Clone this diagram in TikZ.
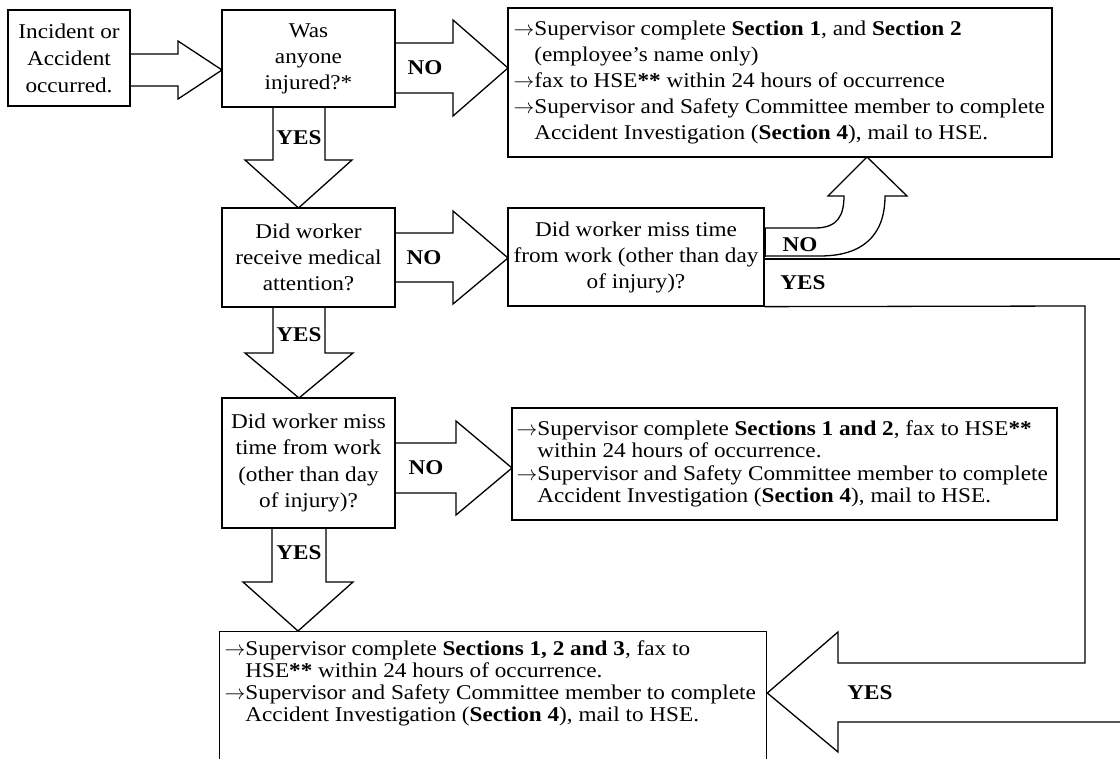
\documentclass[tikz,border=0pt]{standalone}
\usepackage{fontspec}
\setmainfont{Liberation Serif}[FakeStretch=1.105]
\newcommand{\ra}{$\rightarrow$}
\newcommand{\ind}{\hphantom{$\rightarrow$}}
\begin{document}
\begin{tikzpicture}[x=1pt,y=-1pt,line width=1.3pt,
  box/.style={draw,inner sep=0pt,align=center,font=\fontsize{21}{26}\selectfont},
  txt/.style={inner sep=0pt,align=left},
  lbl/.style={inner sep=0pt,font=\fontsize{21}{24}\selectfont\bfseries},
  blk/.style={draw,fill=white,line join=miter}]
\useasboundingbox (0,0) rectangle (1120,759);
\clip (0,0) rectangle (1120,759);
% block arrows
\draw[blk] (130,54) -- (178,54) -- (178,41) -- (222,70) -- (178,99) -- (178,86) -- (130,86);
\draw[blk] (395,43) -- (453,43) -- (453,20) -- (508,68) -- (453,116) -- (453,93) -- (395,93);
\draw[blk] (273,107) -- (273,160) -- (245,160) -- (298.5,208) -- (352,160) -- (325,160) -- (325,107);
\draw[blk] (395,233) -- (453,233) -- (453,211) -- (508,258) -- (453,304) -- (453,282) -- (395,282);
\draw[blk] (273,307) -- (273,353) -- (245,353) -- (299,398) -- (353,353) -- (325,353) -- (325,307);
\draw[blk] (395,443) -- (456,443) -- (456,421) -- (512,468) -- (456,515) -- (456,493) -- (395,493);
\draw[blk] (272,528) -- (272,582) -- (243,582) -- (298,631) -- (353,582) -- (326,582) -- (326,528);
% boxes
\node[box,line width=2.6pt,minimum width=122,minimum height=96,font=\fontsize{21}{27}\selectfont] (b1) at (69,58) {Incident or\\Accident\\occurred.};
\node[box,minimum width=173,minimum height=97] (b2) at (308.5,58.5) {Was\\anyone\\injured?*};
\node[box,minimum width=544,minimum height=149] (b5) at (780,82.5) {};
\node[txt,anchor=west,font=\fontsize{21}{26}\selectfont] (t5) at (513,82.5) {\ra Supervisor complete \textbf{Section 1}, and \textbf{Section 2}\\
\ind (employee’s name only)\\
\ra fax to HSE\textbf{**} within 24 hours of occurrence\\
\ra Supervisor and Safety Committee member to complete\\
\ind Accident Investigation (\textbf{Section 4}), mail to HSE.};
\node[box,minimum width=173,minimum height=99] (b3) at (308.5,257.5) {Did worker\\receive medical\\attention?};
\node[box,minimum width=256,minimum height=98] (b4) at (636,257) {Did worker miss time\\from work (other than day\\of injury)?};
\node[box,minimum width=173,minimum height=130,font=\fontsize{21}{26.5}\selectfont] (bd) at (308.5,463) {Did worker miss\\time from work\\(other than day\\of injury)?};
\node[box,minimum width=545,minimum height=112] (b7) at (784.5,464) {};
\node[txt,anchor=west,font=\fontsize{21}{22.5}\selectfont] (t7) at (516,464) {\ra Supervisor complete \textbf{Sections 1 and 2}, fax to HSE\textbf{**}\\
\ind within 24 hours of occurrence.\\
\ra Supervisor and Safety Committee member to complete\\
\ind Accident Investigation (\textbf{Section 4}), mail to HSE.};
\node[box,anchor=north west,minimum width=547,minimum height=160] (b6) at (219,631) {};
\node[txt,anchor=north west,font=\fontsize{21}{22}\selectfont] (t6) at (224,640) {\ra Supervisor complete \textbf{Sections 1, 2 and 3}, fax to\\
\ind HSE\textbf{**} within 24 hours of occurrence.\\
\ra Supervisor and Safety Committee member to complete\\
\ind Accident Investigation (\textbf{Section 4}), mail to HSE.};
% curved NO arrow from b4 up to b5
\draw[blk] (b4.east |- 0,228) -- (815,228) .. controls (838,228) and (844,215) .. (844,196) -- (828,196) -- (867,157) -- (907,196) -- (885,196) .. controls (885,236) and (862,256) .. (820,256) -- (b4.east |- 0,256);
\draw[line width=2.6pt] (b4.east |- 0,228) -- (b4.east |- 0,257);
% big YES arrow from b4 down to b6
\coordinate (r1) at (1125,259);
\coordinate (r2) at (1125,722);
\draw (b4.east |- 0,259) -- (r1);
\draw[line join=miter] (b4.south east) -- (1085,306) -- (1085,663) -- (838,663) -- (838,632) -- (b6.east |- 0,693) -- (838,752) -- (838,722) -- (r2);
% labels
\node[lbl] (n1) at (425,68) {NO};
\node[lbl] (n2) at (424,258) {NO};
\node[lbl] (n3) at (426,468) {NO};
\node[lbl] (y1) at (299,138) {YES};
\node[lbl] (y2) at (299,335) {YES};
\node[lbl] (y3) at (299,553) {YES};
\node[lbl] (n4) at (800,245) {NO};
\node[lbl] (y4) at (803,283) {YES};
\node[lbl] (y5) at (870,693) {YES};
\end{tikzpicture}
\end{document}
